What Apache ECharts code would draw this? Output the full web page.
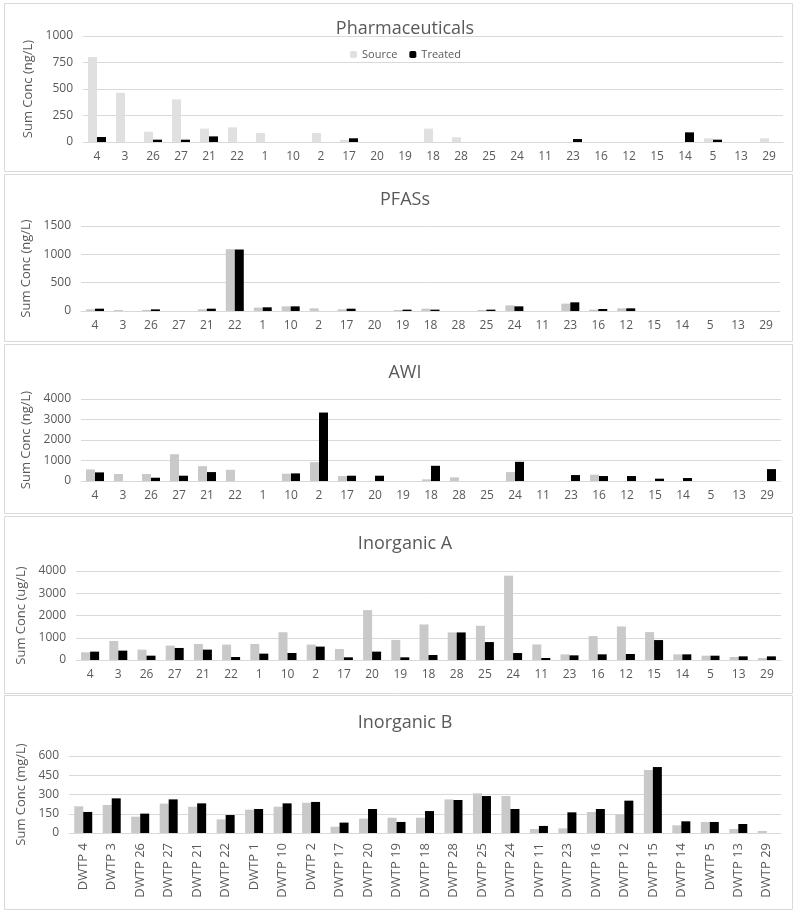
<!DOCTYPE html>
<html>
<head>
<meta charset="utf-8">
<script src="https://cdn.jsdelivr.net/npm/echarts@6/dist/echarts.min.js"></script>
<style>
html,body{margin:0;padding:0;background:#fff;}
#c{width:800px;height:912px;}
</style>
</head>
<body>
<div id="c"></div>
<script>
const categories = ['4','3','26','27','21','22','1','10','2','17','20','19','18','28','25','24','11','23','16','12','15','14','5','13','29'];
const dwtpLabels = categories.map(c => 'DWTP ' + c);

const pharmaSource  = [802,465,97,402,126,138,85,0,85,19,0,0,126,44,0,0,0,0,0,0,0,0,35,0,35];
const pharmaTreated = [47,0,22,22,53,0,0,0,0,35,0,0,0,0,0,0,0,28,0,0,0,91,22,0,0];

const pfasSource  = [29,18,18,0,29,1090,59,82,47,29,0,18,41,0,18,100,0,130,24,47,0,0,0,0,0];
const pfasTreated = [41,0,29,0,41,1085,65,82,0,41,0,24,24,0,24,82,0,153,35,47,0,0,0,0,0];

const awiSource  = [565,340,340,1306,726,548,0,355,919,242,0,0,80,177,0,435,0,0,306,0,0,0,0,0,0];
const awiTreated = [420,0,160,258,435,0,0,371,3339,258,258,0,742,0,0,935,0,290,242,242,113,145,0,0,580];

const inorgASource  = [346,857,466,647,722,692,722,1248,692,496,2241,902,1597,1239,1537,3791,701,254,1075,1507,1254,254,194,134,90];
const inorgATreated = [376,421,195,541,466,135,286,316,602,120,376,120,224,1239,806,313,90,209,254,269,896,254,194,164,164];

const inorgBSource  = [208,218,127,229,205,106,182,205,236,49,112,119,119,262,309,288,31,36,164,145,491,60,86,31,16];
const inorgBTreated = [164,270,151,262,231,140,187,231,242,81,187,86,171,257,288,187,55,161,187,252,514,91,86,70,0];

const panelTitles = ['Pharmaceuticals','PFASs','AWI','Inorganic A','Inorganic B'];
const yNames = ['Sum Conc (ng/L)','Sum Conc (ng/L)','Sum Conc (ng/L)','Sum Conc (ug/L)','Sum Conc (mg/L)'];
const yMax = [1000,1500,4000,4000,600];
const yInterval = [250,500,1000,1000,150];
const sourceData = [pharmaSource,pfasSource,awiSource,inorgASource,inorgBSource];
const treatedData = [pharmaTreated,pfasTreated,awiTreated,inorgATreated,inorgBTreated];

const FONT = '"Open Sans", sans-serif';
const TXT = '#595959';
const GRIDC = '#d9d9d9';

const grids = [
  {left:83, right:17, top:36, height:106},
  {left:81, right:20, top:226, height:85},
  {left:81, right:19, top:399, height:82},
  {left:76, right:19, top:571, height:89},
  {left:69, right:19, top:756, height:77}
];
const titleTops = [15, 186, 359, 530, 709];
const nameGaps = [40, 40, 41, 38, 35];
const boxes = [[4,3,788,168],[4,174,788,167],[4,344,788,169],[4,516,788,177],[4,695,788,214]];
const srcColors = ['#e0e0e0','#c9c9c9','#c9c9c9','#c9c9c9','#c9c9c9'];

const option = {
  animation:false,
  backgroundColor:'#fff',
  graphic: boxes.map(b => ({type:'rect', z:-10, shape:{x:b[0]+0.5,y:b[1]+0.5,width:b[2],height:b[3]}, style:{fill:'#fff', stroke:'#d9d9d9', lineWidth:1}})),
  title: panelTitles.map((t,i) => ({text:t, left:400, top:titleTops[i], textAlign:'center', textStyle:{fontFamily:FONT, fontSize:18, fontWeight:'normal', color:TXT}})),
  legend:{
    left:345, top:44, itemWidth:7, itemHeight:7, itemGap:12,
    textStyle:{fontFamily:FONT, fontSize:11, color:TXT},
    data:[{name:'Source', itemStyle:{color:srcColors[0]}},{name:'Treated', itemStyle:{color:'#000'}}]
  },
  grid: grids,
  xAxis: grids.map((g,i) => ({
    type:'category', gridIndex:i, data: i===4 ? dwtpLabels : categories,
    axisLine:{lineStyle:{color:GRIDC}}, axisTick:{show:false},
    axisLabel:{fontFamily:FONT, fontSize: i===4 ? 13 : 12, color:TXT, interval:0, margin: i===4 ? 10 : 9, rotate: i===4 ? 90 : 0}
  })),
  yAxis: grids.map((g,i) => ({
    type:'value', gridIndex:i, min:0, max:yMax[i], interval:yInterval[i],
    name:yNames[i], nameLocation:'middle', nameGap:nameGaps[i],
    nameTextStyle:{fontFamily:FONT, fontSize:13, color:TXT},
    axisLine:{show:false}, axisTick:{show:false},
    splitLine:{lineStyle:{color:GRIDC}},
    axisLabel:{fontFamily:FONT, fontSize:12, color:TXT, margin:10, formatter: v => String(v)}
  })),
  series: []
};
for (let i=0;i<5;i++){
  option.series.push({name:'Source', type:'bar', xAxisIndex:i, yAxisIndex:i, data:sourceData[i], barWidth:9, barGap:'0%', itemStyle:{color:srcColors[i]}});
  option.series.push({name:'Treated', type:'bar', xAxisIndex:i, yAxisIndex:i, data:treatedData[i], barWidth:9, barGap:'0%', itemStyle:{color:'#000'}});
}
const chart = echarts.init(document.getElementById('c'), null, {renderer:'canvas'});
chart.setOption(option);
</script>
</body>
</html>
